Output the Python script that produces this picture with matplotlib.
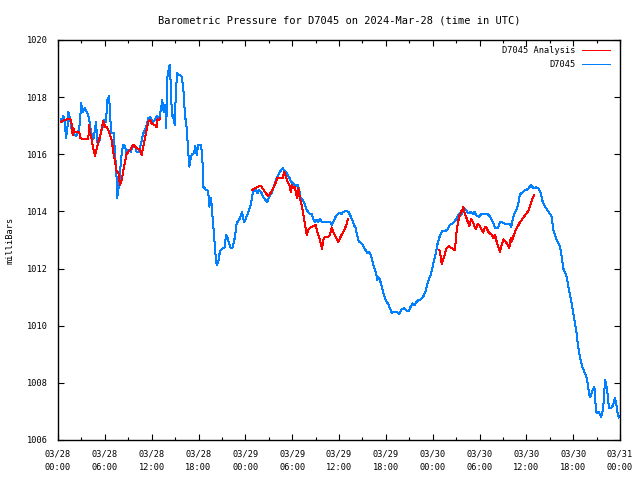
import numpy as np
from matplotlib import pyplot as plt

# hours since 2024-03-28 00:00 UTC
station_hours = [
    0.35, 0.60, 0.68, 0.90, 1.02, 1.19, 1.32, 1.54, 1.76, 1.96, 2.31, 2.60, 2.82, 2.95,
    3.16, 3.46, 3.80, 4.01, 4.19, 4.39, 4.52, 4.74, 4.87, 5.03, 5.29, 5.47, 5.73, 5.93,
    6.15, 6.32, 6.53, 6.66, 6.79, 7.01, 7.17, 7.30, 7.43, 7.52, 7.60, 7.73, 7.85, 8.03,
    8.20, 8.37, 8.58, 8.80, 9.01, 9.31, 9.57, 9.86, 10.08, 10.42, 10.63, 10.93, 11.15,
    11.36, 11.57, 11.79, 12.00, 12.21, 12.43, 12.64, 12.85, 13.07, 13.20, 13.36, 13.49,
    13.62, 13.75, 13.87, 14.00, 14.18, 14.31, 14.44, 14.57, 14.69, 14.82, 14.95, 15.08,
    15.25, 15.54, 15.85, 16.05, 16.27, 16.49, 16.65, 16.82, 17.00, 17.17, 17.42, 17.59,
    17.77, 17.97, 18.32, 18.49, 18.61, 18.92, 19.13, 19.31, 19.38, 19.56, 19.69, 19.82,
    19.99, 20.11, 20.33, 20.54, 20.66, 20.84, 21.10, 21.36, 21.52, 21.69, 21.91, 22.12,
    22.38, 22.68, 22.89, 23.10, 23.32, 23.57, 23.83, 24.05, 24.25, 24.47, 24.69, 24.94,
    25.11, 25.33, 25.53, 25.75, 26.01, 26.30, 26.61, 26.81, 27.07, 27.38, 27.67, 27.93,
    28.22, 28.53, 28.79, 28.99, 29.21, 29.43, 29.63, 29.85, 30.14, 30.45, 30.71, 30.91,
    31.09, 31.35, 31.55, 31.86, 32.19, 32.50, 32.71, 32.92, 33.14, 33.35, 33.56, 33.78,
    34.85, 35.06, 35.27, 35.58, 35.83, 36.13, 36.34, 36.55, 36.99, 37.19, 37.41, 37.70,
    37.92, 38.14, 38.34, 38.56, 38.78, 39.04, 39.24, 39.46, 39.62, 39.84, 40.06, 40.32,
    40.52, 40.74, 40.91, 41.08, 41.25, 41.47, 41.67, 41.89, 42.11, 42.31, 42.53, 42.75,
    42.95, 43.39, 43.69, 44.03, 44.33, 44.67, 44.97, 45.22, 45.44, 45.65, 45.86, 46.08,
    46.38, 46.63, 46.89, 47.11, 47.31, 47.53, 47.75, 47.95, 48.17, 48.39, 48.59, 48.81,
    49.07, 49.28, 49.58, 49.87, 50.09, 50.31, 50.56, 50.77, 50.99, 51.21, 51.41, 51.63,
    51.85, 52.05, 52.27, 52.49, 52.69, 52.91, 53.13, 53.33, 53.64, 53.93, 54.28, 55.05,
    55.34, 55.56, 55.77, 55.98, 56.20, 56.41, 56.62, 56.84, 57.05, 57.91, 58.03, 58.16,
    58.33, 58.55, 58.76, 58.97, 59.19, 59.53, 59.83, 60.12, 60.38, 60.60, 60.76, 60.98,
    61.24, 61.53, 61.84, 62.09, 62.39, 63.25, 63.45, 63.89, 64.31, 64.53, 64.74, 65.17,
    65.38, 65.59, 65.81, 66.02, 66.23, 66.45, 66.58, 66.75, 66.96, 67.17, 67.42, 67.68,
    67.86, 68.03, 68.19, 68.37, 68.54, 68.71, 68.80, 68.92, 69.09, 69.22, 69.40, 69.56,
    69.73, 69.91, 70.08, 70.24, 70.42, 70.59, 70.85, 71.10, 71.36, 71.52, 71.70, 71.87,
]
station_mb = [
    1017.22, 1017.14, 1017.34, 1017.08, 1016.56, 1016.85, 1017.49, 1017.26, 1016.85,
    1016.73, 1016.64, 1016.79, 1017.08, 1017.81, 1017.49, 1017.61, 1017.43, 1017.20,
    1016.85, 1016.59, 1016.52, 1016.85, 1017.14, 1016.44, 1016.44, 1016.73, 1016.97,
    1017.20, 1017.14, 1017.90, 1018.04, 1017.55, 1016.79, 1016.73, 1016.76, 1015.92,
    1015.68, 1014.98, 1014.46, 1015.10, 1014.81, 1015.68, 1016.15, 1016.33, 1016.27,
    1016.01, 1016.15, 1016.09, 1016.27, 1016.29, 1016.09, 1016.09, 1016.38, 1016.73,
    1016.85, 1017.02, 1017.26, 1017.31, 1017.20, 1017.14, 1017.20, 1017.34, 1017.20,
    1017.37, 1017.61, 1017.90, 1017.55, 1017.49, 1017.72, 1016.91, 1018.66, 1018.97,
    1019.12, 1018.48, 1017.55, 1017.26, 1017.37, 1017.02, 1018.02, 1018.83, 1018.78,
    1018.72, 1018.31, 1017.37, 1016.91, 1016.21, 1015.57, 1015.86, 1016.01, 1016.03,
    1016.29, 1015.98, 1016.33, 1016.33, 1015.92, 1014.87, 1014.77, 1014.75, 1014.52,
    1014.17, 1014.46, 1014.23, 1013.70, 1013.23, 1012.65, 1012.13, 1012.24, 1012.48,
    1012.65, 1012.71, 1012.74, 1013.18, 1013.12, 1012.88, 1012.71, 1012.74, 1013.12,
    1013.59, 1013.67, 1013.76, 1013.99, 1013.64, 1013.74, 1013.88, 1014.05, 1014.23,
    1014.63, 1014.75, 1014.77, 1014.63, 1014.75, 1014.69, 1014.49, 1014.40, 1014.34,
    1014.52, 1014.66, 1014.87, 1015.10, 1015.28, 1015.43, 1015.51, 1015.43, 1015.39,
    1015.28, 1015.19, 1015.04, 1014.98, 1014.87, 1014.93, 1014.75, 1014.46, 1014.40,
    1014.31, 1014.05, 1013.93, 1013.91, 1013.72, 1013.64, 1013.70, 1013.64, 1013.72,
    1013.64, 1013.64, 1013.53, 1013.64, 1013.82, 1013.91, 1013.96, 1013.91, 1013.99,
    1014.01, 1013.99, 1013.88, 1013.70, 1013.53, 1013.41, 1013.14, 1012.94, 1012.91,
    1012.83, 1012.71, 1012.63, 1012.53, 1012.59, 1012.48, 1012.21, 1012.01, 1011.86,
    1011.60, 1011.69, 1011.60, 1011.37, 1011.16, 1010.96, 1010.84, 1010.75, 1010.61,
    1010.43, 1010.49, 1010.49, 1010.41, 1010.57, 1010.61, 1010.53, 1010.53, 1010.69,
    1010.78, 1010.72, 1010.81, 1010.88, 1010.90, 1010.96, 1011.07, 1011.23, 1011.43,
    1011.66, 1011.78, 1012.01, 1012.30, 1012.53, 1012.83, 1013.06, 1013.23, 1013.32,
    1013.32, 1013.35, 1013.49, 1013.56, 1013.58, 1013.64, 1013.72, 1013.82, 1013.93,
    1013.88, 1013.99, 1014.11, 1014.05, 1013.96, 1013.93, 1013.99, 1013.91, 1013.99,
    1013.84, 1013.82, 1013.91, 1013.91, 1013.82, 1013.70, 1013.58, 1013.44, 1013.41,
    1013.44, 1013.61, 1013.64, 1013.58, 1013.56, 1013.44, 1013.58, 1013.82, 1013.96,
    1014.07, 1014.28, 1014.61, 1014.66, 1014.75, 1014.77, 1014.84, 1014.93, 1014.87,
    1014.81, 1014.84, 1014.81, 1014.66, 1014.34, 1014.17, 1013.82, 1013.35, 1013.00,
    1012.77, 1012.42, 1012.00, 1011.72, 1011.37, 1011.07, 1010.78, 1010.43, 1010.08,
    1009.73, 1009.38, 1009.09, 1008.80, 1008.57, 1008.39, 1008.22, 1007.98, 1007.63,
    1007.49, 1007.63, 1007.77, 1007.87, 1007.57, 1006.99, 1006.93, 1006.99, 1006.91,
    1006.82, 1006.93, 1007.34, 1008.10, 1007.92, 1007.57, 1007.11, 1007.11, 1007.22,
    1007.46, 1007.28, 1006.93, 1006.79,
]

# analysis series, NaN marks the gaps between runs
nan = float("nan")
analysis_hours = [
    0.38, 0.90, 1.11, 1.63, 1.76, 1.88, 1.96, 2.09, 2.31, 2.73, 2.86, 3.16, 3.59, 3.88,
    3.97, 4.10, 4.32, 4.52, 4.74, 4.96, 5.16, 5.38, 5.60, 5.80, 6.02, 6.24, 6.44, 6.66,
    6.88, 7.08, 7.30, 7.52, 7.73, 7.94, 8.16, 8.37, 8.58, 8.80, 9.01, 9.22, 9.44, 9.65,
    9.86, 10.08, 10.51, 10.72, 10.93, 11.15, 11.36, 11.57, 11.79, 12.00, 12.43, 12.64,
    12.72, 12.94, 13.07, nan,
    24.89, 25.24, 25.66, 26.01, 26.30, 26.65, 26.94, 27.25, 27.58, 27.93, 28.09, 28.79,
    28.99, 29.21, 29.43, 29.63, 29.81, 29.98, 30.14, 30.32, 30.49, 30.66, 30.79, 31.00,
    31.22, 31.43, 31.64, 31.86, 32.07, 32.37, 32.71, 33.01, 33.27, 33.56, 33.82, 33.99,
    34.21, 34.63, 34.85, 35.06, 35.36, 35.61, 35.91, 36.22, 36.55, 36.90, 37.11, nan,
    48.85, 49.03, 49.16, 49.36, 49.58, 49.80, 50.09, 50.44, 50.86, 50.99, 51.21, 51.41,
    51.63, 51.80, 51.92, 52.05, 52.27, 52.49, 52.69, 52.91, 53.13, 53.33, 53.55, 53.77,
    53.97, 54.28, 54.49, 54.70, 54.92, 55.13, 55.34, 55.56, 55.77, 55.98, 56.20, 56.41,
    56.62, 56.84, 57.05, 57.36, 57.61, 57.82, 58.00, 58.12, 58.33, 58.55, 58.76, 59.10,
    59.40, 59.70, 60.04, 60.34, 60.60, 60.81, 61.02,
]
analysis_mb = [
    1017.14, 1017.20, 1017.22, 1017.22, 1017.02, 1016.68, 1016.91, 1016.79, 1016.77,
    1016.77, 1016.56, 1016.54, 1016.54, 1016.52, 1017.02, 1016.79, 1016.50, 1016.21,
    1015.94, 1016.21, 1016.44, 1016.62, 1016.91, 1017.17, 1016.97, 1016.97, 1016.85,
    1016.68, 1016.50, 1016.09, 1015.74, 1015.39, 1015.39, 1014.93, 1015.10, 1015.45,
    1015.74, 1016.01, 1016.09, 1016.15, 1016.24, 1016.33, 1016.27, 1016.21, 1016.17,
    1015.98, 1016.27, 1016.56, 1016.85, 1017.14, 1017.20, 1017.08, 1017.02, 1016.94,
    1017.22, 1017.20, 1017.26, nan,
    1014.75, 1014.81, 1014.87, 1014.90, 1014.77, 1014.63, 1014.54, 1014.66, 1014.81,
    1015.04, 1015.16, 1015.16, 1015.39, 1015.22, 1015.04, 1014.93, 1014.69, 1014.93,
    1014.81, 1014.87, 1014.63, 1014.46, 1014.81, 1014.46, 1014.23, 1013.88, 1013.53,
    1013.18, 1013.37, 1013.44, 1013.49, 1013.53, 1013.23, 1013.00, 1012.69, 1013.00,
    1013.12, 1013.12, 1013.18, 1013.44, 1013.23, 1013.09, 1012.94, 1013.12, 1013.29,
    1013.49, 1013.72, nan,
    1012.65, 1012.42, 1012.16, 1012.32, 1012.53, 1012.71, 1012.79, 1012.71, 1012.65,
    1013.12, 1013.58, 1013.82, 1013.99, 1014.05, 1014.17, 1013.99, 1013.82, 1013.64,
    1013.49, 1013.72, 1013.64, 1013.49, 1013.37, 1013.56, 1013.53, 1013.35, 1013.26,
    1013.47, 1013.41, 1013.29, 1013.23, 1013.18, 1013.06, 1013.18, 1012.94, 1012.77,
    1012.59, 1012.83, 1013.02, 1012.94, 1012.83, 1012.71, 1013.06, 1012.94, 1013.12,
    1013.29, 1013.41, 1013.58, 1013.70, 1013.82, 1013.93, 1014.07, 1014.28, 1014.46,
    1014.58,
]

tick_hours = list(range(0, 73, 6))
tick_dates = ["03/28"] * 4 + ["03/29"] * 4 + ["03/30"] * 4 + ["03/31"]
tick_times = ["00:00", "06:00", "12:00", "18:00"] * 3 + ["00:00"]
tick_labels = [f"{d}\n{t}" for d, t in zip(tick_dates, tick_times)]

plt.rcParams["font.family"] = "DejaVu Sans Mono"
plt.rcParams["font.size"] = 6.2

fig = plt.figure(figsize=(6.4, 4.8), dpi=100)
ax = fig.add_axes([58 / 640, 40 / 480, 562 / 640, 400 / 480])

ax.plot(np.array(station_hours), np.array(station_mb), color="#0080ff", lw=0.72, antialiased=False)
ax.plot(np.array(analysis_hours), np.array(analysis_mb), color="#ff0000", lw=0.72, antialiased=False)

ax.set_xlim(0, 72)
ax.set_ylim(1006, 1020)
ax.set_xticks(tick_hours)
ax.set_xticklabels(tick_labels, linespacing=1.6)
ax.set_xticks(np.arange(3, 72, 6), minor=True)
ax.set_yticks(np.arange(1006, 1021, 2))
ax.tick_params(direction="in", top=True, right=True, length=4, width=0.8, pad=7)
ax.tick_params(which="minor", direction="in", top=True, length=2, width=0.8)
for s in ax.spines.values():
    s.set_linewidth(1)

ax.set_ylabel("milliBars")
ax.yaxis.set_label_coords(-0.078, 0.5)
ax.set_title("Barometric Pressure for D7045 on 2024-Mar-28 (time in UTC)", pad=12)

# gnuplot-style key, text right-aligned with line sample on the right
key = [("D7045 Analysis", "#ff0000"), ("D7045", "#0080ff")]
for i, (name, col) in enumerate(key):
    y = 0.974 - i * 0.035
    ax.text(0.921, y, name, transform=ax.transAxes, ha="right", va="center")
    ax.plot([0.932, 0.982], [y, y], transform=ax.transAxes, color=col, lw=0.72, antialiased=False)

fig.savefig("out.png", dpi=100)
